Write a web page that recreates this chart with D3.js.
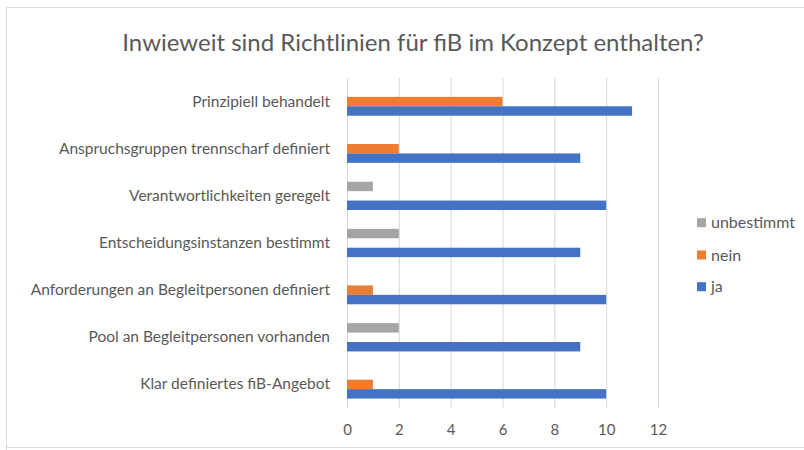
<!DOCTYPE html>
<html>
<head>
<meta charset="utf-8">
<script src="https://cdn.jsdelivr.net/npm/d3@7"></script>
<style>
  body { margin: 0; background: #fff; }
  svg { display: block; font-family: Lato, "Open Sans", sans-serif; }
</style>
</head>
<body>
<div id="chart"></div>
<script>
const categories = [
  'Prinzipiell behandelt',
  'Anspruchsgruppen trennscharf definiert',
  'Verantwortlichkeiten geregelt',
  'Entscheidungsinstanzen bestimmt',
  'Anforderungen an Begleitpersonen definiert',
  'Pool an Begleitpersonen vorhanden',
  'Klar definiertes fiB-Angebot'
];
const seriesNames = ['unbestimmt', 'nein', 'ja'];
const unbestimmt = [0, 0, 1, 2, 0, 2, 0];
const nein = [6, 2, 0, 0, 1, 0, 1];
const ja = [11, 9, 10, 9, 10, 9, 10];
const xTicks = [0, 2, 4, 6, 8, 10, 12];
const colors = ['#A5A5A5', '#ED7D31', '#4472C4'];

const width = 804, height = 450;
const margin = {top: 78, left: 347, right: 146, bottom: 42};
const plotW = 658 - margin.left;

const svg = d3.select('#chart').append('svg')
  .attr('width', width)
  .attr('height', height);

// frame
svg.append('path')
  .attr('d', 'M6.5,' + height + ' L6.5,7.5 L' + width + ',7.5')
  .attr('fill', 'none')
  .attr('stroke', '#d9d9d9')
  .attr('stroke-width', 1);
svg.append('line')
  .attr('x1', 6).attr('x2', width)
  .attr('y1', 447.5).attr('y2', 447.5)
  .attr('stroke', '#d9d9d9');

svg.append('text')
  .attr('x', 413)
  .attr('y', 51)
  .attr('text-anchor', 'middle')
  .attr('font-size', 24)
  .attr('fill', '#595959')
  .text('Inwieweit sind Richtlinien für fiB im Konzept enthalten?');

const x = d3.scaleLinear()
  .domain([0, 12])
  .range([margin.left, margin.left + plotW]);

const y = d3.scaleBand()
  .domain(categories)
  .range([78, 408])
  .paddingInner(0.4)
  .paddingOuter(0.2);

const ySub = d3.scaleBand()
  .domain(seriesNames)
  .range([0, y.bandwidth()]);

// gridlines
svg.append('g')
  .selectAll('line')
  .data(xTicks)
  .enter().append('line')
  .attr('x1', d => x(d) + 0.5)
  .attr('x2', d => x(d) + 0.5)
  .attr('y1', 78)
  .attr('y2', 408)
  .attr('stroke', '#d9d9d9')
  .attr('stroke-width', 1);

const values = [unbestimmt, nein, ja];

seriesNames.forEach((name, s) => {
  svg.append('g')
    .selectAll('rect')
    .data(values[s])
    .enter().append('rect')
    .attr('x', x(0))
    .attr('y', (d, i) => y(categories[i]) + ySub(name))
    .attr('width', d => x(d) - x(0))
    .attr('height', ySub.bandwidth())
    .attr('fill', colors[s]);
});

// x axis labels
const xAxis = d3.axisBottom(x)
  .tickValues(xTicks)
  .tickSize(0)
  .tickPadding(0);
const gx = svg.append('g')
  .attr('transform', 'translate(0,' + 424 + ')')
  .call(xAxis);
gx.select('.domain').remove();
gx.selectAll('text')
  .attr('font-family', 'Lato, "Open Sans", sans-serif')
  .attr('font-size', 15)
  .attr('fill', '#595959');

// y axis labels
const yAxis = d3.axisLeft(y).tickSize(0).tickPadding(17);
const gy = svg.append('g')
  .attr('transform', 'translate(' + margin.left + ',0)')
  .call(yAxis);
gy.select('.domain').remove();
gy.selectAll('text')
  .attr('font-family', 'Lato, "Open Sans", sans-serif')
  .attr('font-size', 15.5)
  .attr('fill', '#595959');

// legend
const legendY = [222.7, 255, 286.7];
const legend = svg.append('g')
  .selectAll('g')
  .data(seriesNames)
  .enter().append('g')
  .attr('transform', (d, i) => 'translate(697,' + legendY[i] + ')');
legend.append('rect')
  .attr('x', 0)
  .attr('y', -4.5)
  .attr('width', 9)
  .attr('height', 9)
  .attr('fill', (d, i) => colors[i]);
legend.append('text')
  .attr('x', 14)
  .attr('dy', '0.35em')
  .attr('font-size', 16)
  .attr('fill', '#595959')
  .text(d => d);
</script>
</body>
</html>
